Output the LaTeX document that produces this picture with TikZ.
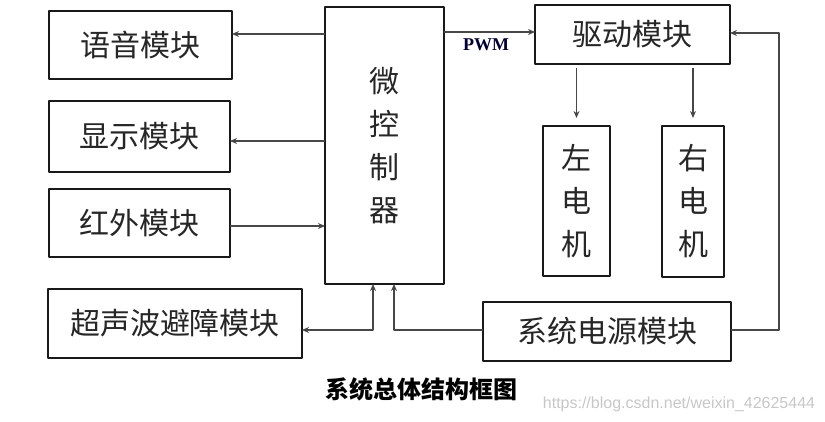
\documentclass[tikz,border=0pt]{standalone}
\usepackage{fontspec}
\setmainfont{Noto Sans CJK SC}
\newfontfamily\pwmfont{Liberation Serif}
\newfontfamily\urlfont{Liberation Sans}
\usetikzlibrary{arrows.meta}

\begin{document}
\begin{tikzpicture}[x=1pt, y=-1pt, line join=round,
    >={Stealth[length=7pt,width=6pt]},
    caja/.style={draw=black!90, line width=1.3pt, inner sep=0pt, outer sep=0pt,
      text=black!85, font=\fontsize{30}{43}\selectfont, align=center},
    linea/.style={draw=black!72, line width=1.2pt}]
    \useasboundingbox (0,0) rectangle (825,422);
    % modulos de la izquierda
    \node[caja, minimum width=183, minimum height=68] (yuyin) at (140.5,45) {语音模块};
    \node[caja, minimum width=181, minimum height=71] (xianshi) at (139.5,136.5) {显示模块};
    \node[caja, minimum width=181, minimum height=68] (hongwai) at (139.5,223) {红外模块};
    \node[caja, minimum width=254, minimum height=69] (chaosheng) at (175,323.5) {超声波避障模块};
    % microcontrolador
    \node[caja, minimum width=119, minimum height=277] (mcu) at (384.5,145.5) {微\\控\\制\\器};
    % driver, motores y fuente
    \node[caja, minimum width=195, minimum height=59] (qudong) at (632.5,34.5) {驱动模块};
    \node[caja, minimum width=67, minimum height=150] (zuo) at (576.5,201) {左\\电\\机};
    \node[caja, minimum width=62, minimum height=151] (you) at (693,201.5) {右\\电\\机};
    \node[caja, minimum width=248, minimum height=59] (dianyuan) at (607,331.5) {系统电源模块};
    % conexiones
    \draw[linea, ->] (mcu.west |- 0,34) -- (yuyin.east |- 0,34);
    \draw[linea, ->] (mcu.west |- 0,141) -- (xianshi.east |- 0,141);
    \draw[linea, ->] (hongwai.east |- 0,226) -- (mcu.west |- 0,226);
    \draw[linea, ->] (mcu.east |- 0,32) -- (qudong.west |- 0,32);
    \node[font=\pwmfont\bfseries\fontsize{18}{18}\selectfont, text=black!80!blue] (pwm) at (486,45) {PWM};
    \draw[linea, ->, shorten <=4pt, shorten >=8pt] (zuo.north |- qudong.south) -- (zuo.north);
    \draw[linea, ->, shorten <=4pt, shorten >=8pt] (you.north |- qudong.south) -- (you.north);
    \draw[linea, <->] (chaosheng.east |- 0,330) -| (mcu.south -| 373,0);
    \draw[linea, ->] (dianyuan.west |- 0,330) -| (mcu.south -| 394,0);
    \coordinate (esquina) at (779,33);
    \draw[linea, ->] (dianyuan.east |- 0,330) -| (esquina) -- (qudong.east |- esquina);
    % titulo
    \node[font=\bfseries\fontsize{24}{24}\selectfont] (titulo) at (421.5,389) {系统总体结构框图};
    \node[font=\urlfont\fontsize{16}{16}\selectfont, text=black!22] (url) at (679,404) {https://blog.csdn.net/weixin\_42625444};
\end{tikzpicture}
\end{document}
